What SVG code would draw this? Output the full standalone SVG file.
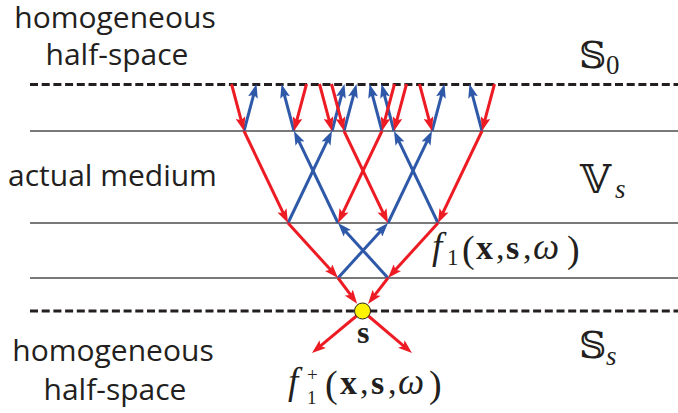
<svg xmlns="http://www.w3.org/2000/svg" width="678" height="413" viewBox="0 0 678 413">
<style>
.lbl{font-family:"Open Sans","Liberation Sans",sans-serif;font-size:30px;fill:#231F20}
.m{font-family:"Liberation Serif","DejaVu Serif",serif;fill:#231F20}
.bb{font-family:"DejaVu Serif","DejaVu Sans",serif;fill:#231F20}
.dash{stroke:#231F20;stroke-width:3;stroke-dasharray:8 3.7;fill:none}
.solid{stroke:#4D4D4D;stroke-width:1.6;fill:none}
.r{stroke:#ED1C24;stroke-width:3;fill:none;marker-end:url(#ar)}
.b{stroke:#2E58A8;stroke-width:3;fill:none;marker-end:url(#ab)}
</style>
<defs>
<marker id="ar" markerUnits="userSpaceOnUse" viewBox="0 0 14 10" markerWidth="14" markerHeight="10" refX="8" refY="5" orient="auto"><path d="M0,0 L14,5 L0,10 L3,5 z" fill="#ED1C24"/></marker>
<marker id="ab" markerUnits="userSpaceOnUse" viewBox="0 0 14 10" markerWidth="14" markerHeight="10" refX="8" refY="5" orient="auto"><path d="M0,0 L14,5 L0,10 L3,5 z" fill="#2E58A8"/></marker>
</defs>
<rect width="678" height="413" fill="#fff"/>
<g id="interfaces">
<line class="dash" x1="30" y1="84.5" x2="678" y2="84.5"/>
<line class="solid" x1="30" y1="131" x2="678" y2="131"/>
<line class="solid" x1="30" y1="223" x2="678" y2="223"/>
<line class="solid" x1="30" y1="278" x2="678" y2="278"/>
<line class="dash" x1="30" y1="311" x2="678" y2="311"/>
</g>
<g id="connectors">
<line class="b" x1="244" y1="131" x2="254.96" y2="89.8"/>
<line class="b" x1="294" y1="131" x2="283.04" y2="89.8"/>
<line class="b" x1="332" y1="131" x2="342.96" y2="89.8"/>
<line class="b" x1="344" y1="131" x2="354.96" y2="89.8"/>
<line class="b" x1="382" y1="131" x2="371.04" y2="89.8"/>
<line class="b" x1="394" y1="131" x2="383.04" y2="89.8"/>
<line class="b" x1="432" y1="131" x2="442.96" y2="89.8"/>
<line class="b" x1="482" y1="131" x2="471.04" y2="89.8"/>
<line class="b" x1="288" y1="223" x2="329.41" y2="136.41"/>
<line class="b" x1="338" y1="223" x2="296.59" y2="136.41"/>
<line class="b" x1="388" y1="223" x2="429.41" y2="136.41"/>
<line class="b" x1="438" y1="223" x2="396.59" y2="136.41"/>
<line class="b" x1="338" y1="278" x2="383.96" y2="227.44"/>
<line class="b" x1="388" y1="278" x2="342.04" y2="227.44"/>
<line class="r" x1="231.5" y1="84" x2="242.46" y2="125.2"/>
<line class="r" x1="306.5" y1="84" x2="295.54" y2="125.2"/>
<line class="r" x1="319.5" y1="84" x2="330.46" y2="125.2"/>
<line class="r" x1="331.5" y1="84" x2="342.46" y2="125.2"/>
<line class="r" x1="394.5" y1="84" x2="383.54" y2="125.2"/>
<line class="r" x1="406.5" y1="84" x2="395.54" y2="125.2"/>
<line class="r" x1="419.5" y1="84" x2="430.46" y2="125.2"/>
<line class="r" x1="494.5" y1="84" x2="483.54" y2="125.2"/>
<line class="r" x1="244" y1="131" x2="285.41" y2="217.59"/>
<line class="r" x1="382" y1="131" x2="340.59" y2="217.59"/>
<line class="r" x1="344" y1="131" x2="385.41" y2="217.59"/>
<line class="r" x1="482" y1="131" x2="440.59" y2="217.59"/>
<line class="r" x1="288" y1="223" x2="333.96" y2="273.56"/>
<line class="r" x1="438" y1="223" x2="392.04" y2="273.56"/>
<line class="r" x1="338" y1="278" x2="353.56" y2="298.95"/>
<line class="r" x1="388" y1="278" x2="371.67" y2="299.13"/>
<line class="r" x1="362.5" y1="311" x2="316.61" y2="349.16"/>
<line class="r" x1="362.5" y1="311" x2="407.42" y2="349.12"/>
</g>
<g id="source">
<circle cx="362.5" cy="311" r="8" fill="#FFF200" stroke="#231F20" stroke-width="1"/>
<text class="m" x="357" y="343" font-size="32" font-weight="bold">s</text>
</g>
<g id="top-halfspace">
<text class="lbl" x="115" y="28" font-size="29.5" text-anchor="middle">homogeneous</text>
<text class="lbl" x="117" y="65" text-anchor="middle">half-space</text>
</g>
<g id="medium">
<text class="lbl" x="8" y="186">actual medium</text>
</g>
<g id="bottom-halfspace">
<text class="lbl" x="113" y="361" text-anchor="middle">homogeneous</text>
<text class="lbl" x="115" y="400" text-anchor="middle">half-space</text>
</g>
<g id="S0">
<text class="bb" x="579" y="68" font-size="38">𝕊</text>
<text class="m" x="606" y="74" font-size="27">0</text>
</g>
<g id="Vs">
<text class="bb" x="580" y="193" font-size="40">𝕍</text>
<text class="m" x="615" y="198" font-size="27" font-style="italic">s</text>
</g>
<g id="Ss">
<text class="bb" x="579" y="358" font-size="38">𝕊</text>
<text class="m" x="606" y="365" font-size="27" font-style="italic">s</text>
</g>
<g id="f1">
<text class="m" font-size="34"><tspan x="432" y="259" font-size="37" font-style="italic">f</tspan><tspan x="447" y="265" font-size="23">1</tspan><tspan x="462" y="262" font-size="38">(</tspan><tspan x="476" y="259" font-weight="bold">x</tspan><tspan x="496" y="259">,</tspan><tspan x="506" y="259" font-weight="bold">s</tspan><tspan x="523" y="259">,</tspan><tspan x="533" y="259" font-size="37" font-style="italic">ω</tspan><tspan x="567" y="262" font-size="38">)</tspan></text>
</g>
<g id="f1plus">
<text class="m" font-size="34"><tspan x="288" y="394" font-size="37" font-style="italic">f</tspan><tspan x="307" y="381" font-size="19">+</tspan><tspan x="307" y="404" font-size="19">1</tspan><tspan x="325" y="397" font-size="38">(</tspan><tspan x="340" y="394" font-weight="bold">x</tspan><tspan x="360" y="394">,</tspan><tspan x="371" y="394" font-weight="bold">s</tspan><tspan x="388" y="394">,</tspan><tspan x="398" y="394" font-size="37" font-style="italic">ω</tspan><tspan x="429" y="397" font-size="38">)</tspan></text>
</g>
</svg>
